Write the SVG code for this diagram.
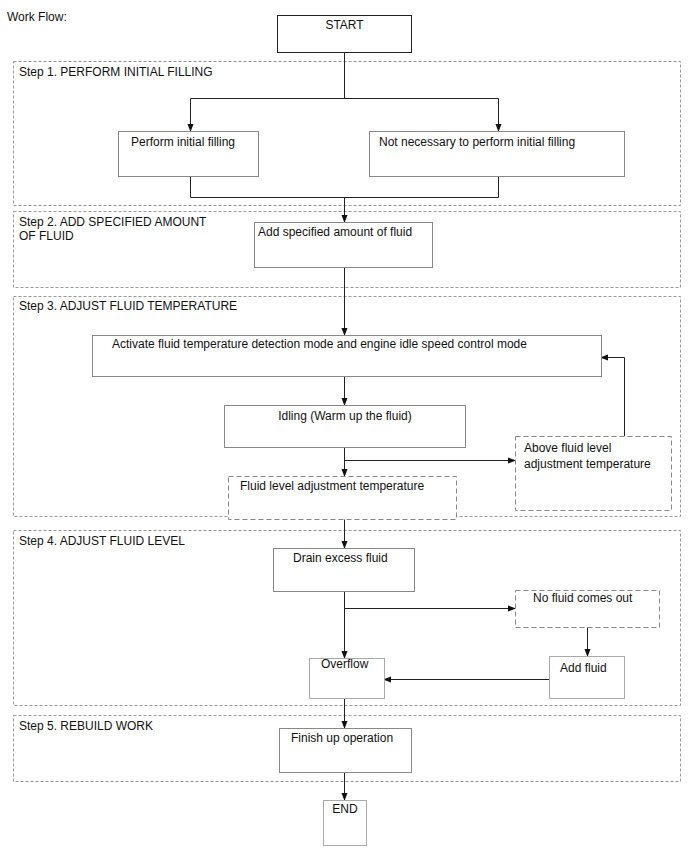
<svg xmlns="http://www.w3.org/2000/svg" width="688" height="852" viewBox="0 0 688 852">
<defs>
<marker id="arr" markerWidth="8" markerHeight="8" refX="7" refY="4" orient="auto" markerUnits="userSpaceOnUse"><path d="M0,1 L8,4 L0,7 Z" fill="#111"/></marker>
<style>
text{font-family:"Liberation Sans",Arial,sans-serif;font-size:12px;fill:#111}
.step{fill:none;stroke:#999;stroke-width:1;stroke-dasharray:3,2}
.node{fill:#fff;stroke:#888;stroke-width:1}
.start{fill:#fff;stroke:#222;stroke-width:1}
.light{fill:#fff;stroke:#aaa;stroke-width:1}
.dash{fill:#fff;stroke:#888;stroke-width:1;stroke-dasharray:5,3}
.c{fill:none;stroke:#222;stroke-width:1}
.ca{fill:none;stroke:#222;stroke-width:1;marker-end:url(#arr)}
</style>
</defs>
<rect width="688" height="852" fill="#fff"/>
<text x="7" y="21">Work Flow:</text>

<g id="step1"><rect class="step" x="13.5" y="61.5" width="667" height="144"/><text x="19" y="76">Step 1. PERFORM INITIAL FILLING</text></g>
<g id="step2"><rect class="step" x="13.5" y="211.5" width="667" height="76"/><text x="19" y="226">Step 2. ADD SPECIFIED AMOUNT</text><text x="19" y="240">OF FLUID</text></g>
<g id="step3"><rect class="step" x="13.5" y="296.5" width="667" height="220"/><text x="19" y="310">Step 3. ADJUST FLUID TEMPERATURE</text></g>
<g id="step4"><rect class="step" x="13.5" y="530.5" width="667" height="175"/><text x="19" y="545">Step 4. ADJUST FLUID LEVEL</text></g>
<g id="step5"><rect class="step" x="13.5" y="715.5" width="667" height="66"/><text x="19" y="730">Step 5. REBUILD WORK</text></g>

<g id="connectors">
<path class="c" d="M344.5,52 V98.5 M190.5,98.5 H498.5"/>
<path class="ca" d="M190.5,98.5 V131"/>
<path class="ca" d="M498.5,98.5 V131"/>
<path class="c" d="M190.5,176 V197.5 H498.5 V176"/>
<path class="ca" d="M344.5,197.5 V222"/>
<path class="ca" d="M344.5,267 V335"/>
<path class="ca" d="M344.5,376 V405"/>
<path class="ca" d="M344.5,447 V476"/>
<path class="ca" d="M344.5,460.5 H515"/>
<path class="ca" d="M624.5,436 V357.5 H601"/>
<path class="ca" d="M344.5,519 V548"/>
<path class="ca" d="M344.5,591 V658"/>
<path class="ca" d="M344.5,608.5 H515"/>
<path class="ca" d="M587.5,627 V656"/>
<path class="ca" d="M549,679.5 H384"/>
<path class="ca" d="M344.5,698 V728"/>
<path class="ca" d="M344.5,772 V800"/>
</g>

<g id="start"><rect class="start" x="277.5" y="15.5" width="134" height="37"/><text x="344.5" y="29" text-anchor="middle">START</text></g>
<g id="perform"><rect class="node" x="118.5" y="131.5" width="140" height="45"/><text x="131" y="146">Perform initial filling</text></g>
<g id="notnecessary"><rect class="node" x="369.5" y="131.5" width="255" height="45"/><text x="379" y="146">Not necessary to perform initial filling</text></g>
<g id="addspecified"><rect class="node" x="254.5" y="222.5" width="178" height="45"/><text x="258" y="236">Add specified amount of fluid</text></g>
<g id="activate"><rect class="node" x="92.5" y="335.5" width="509" height="41"/><text x="112" y="348">Activate fluid temperature detection mode and engine idle speed control mode</text></g>
<g id="idling"><rect class="node" x="224.5" y="405.5" width="241" height="42"/><text x="345" y="420" text-anchor="middle">Idling (Warm up the fluid)</text></g>
<g id="above"><rect class="dash" x="515.5" y="436.5" width="156" height="74"/><text x="524" y="452">Above fluid level</text><text x="524" y="468">adjustment temperature</text></g>
<g id="fluidlevel"><rect class="dash" x="228.5" y="476.5" width="228" height="43"/><text x="240" y="490">Fluid level adjustment temperature</text></g>
<g id="drain"><rect class="node" x="273.5" y="548.5" width="141" height="43"/><text x="293" y="562">Drain excess fluid</text></g>
<g id="nofluid"><rect class="dash" x="515.5" y="590.5" width="144" height="37"/><text x="533" y="602">No fluid comes out</text></g>
<g id="addfluid"><rect class="light" x="549.5" y="656.5" width="75" height="42"/><text x="560" y="672">Add fluid</text></g>
<g id="overflow"><rect class="light" x="309.5" y="658.5" width="75" height="40"/><text x="321" y="668">Overflow</text></g>
<g id="finish"><rect class="node" x="279.5" y="728.5" width="132" height="44"/><text x="291" y="742">Finish up operation</text></g>
<g id="end"><rect class="light" x="323.5" y="800.5" width="43" height="45"/><text x="345" y="813" text-anchor="middle">END</text></g>
</svg>
